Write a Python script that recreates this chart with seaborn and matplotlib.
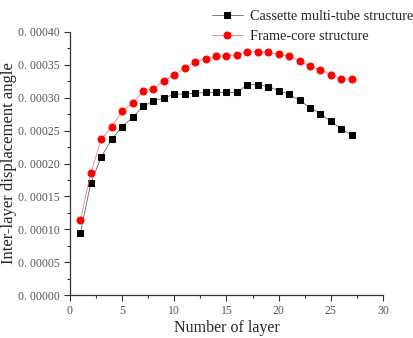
import matplotlib
matplotlib.use("Agg")
import matplotlib.pyplot as plt
import seaborn as sns
import pandas as pd
from matplotlib.ticker import MultipleLocator, FuncFormatter

layers = list(range(1, 28))
cassette = [0.000094, 0.000171, 0.000210, 0.000237, 0.000256, 0.000270, 0.000287,
            0.000295, 0.000300, 0.000305, 0.000306, 0.000307, 0.000308, 0.000308,
            0.000308, 0.000308, 0.000320, 0.000320, 0.000317, 0.000311, 0.000305,
            0.000296, 0.000285, 0.000276, 0.000264, 0.000253, 0.000243]
frame = [0.000114, 0.000186, 0.000237, 0.000256, 0.000280, 0.000292, 0.000310,
         0.000314, 0.000325, 0.000335, 0.000345, 0.000355, 0.000359, 0.000363,
         0.000364, 0.000365, 0.000370, 0.000370, 0.000369, 0.000366, 0.000363,
         0.000356, 0.000348, 0.000342, 0.000335, 0.000329, 0.000328]
series_names = ["Cassette multi-tube structure", "Frame-core structure"]

df_c = pd.DataFrame({"layer": layers, "angle": cassette})
df_f = pd.DataFrame({"layer": layers, "angle": frame})

sns.set_style("ticks")
plt.rcParams["font.family"] = ["Liberation Serif", "DejaVu Serif"]

fig = plt.figure(figsize=(4.14, 3.38), dpi=100)
ax = fig.add_axes([70 / 414, 43 / 338, 313 / 414, 263 / 338])

sns.lineplot(data=df_c, x="layer", y="angle", ax=ax, color="#666666", linewidth=0.6,
             marker="s", markersize=4.5, markerfacecolor="black", markeredgecolor="black",
             label=series_names[0])
sns.lineplot(data=df_f, x="layer", y="angle", ax=ax, color="#f08080", linewidth=0.6,
             marker="o", markersize=5, markerfacecolor="red", markeredgecolor="red",
             label=series_names[1])

ax.set_xlim(0, 30)
ax.set_ylim(0, 0.0004)
ax.xaxis.set_major_locator(MultipleLocator(5))
ax.xaxis.set_minor_locator(MultipleLocator(2.5))
ax.yaxis.set_major_locator(MultipleLocator(0.00005))
ax.yaxis.set_minor_locator(MultipleLocator(0.000025))
ax.yaxis.set_major_formatter(FuncFormatter(lambda v, p: "0. " + f"{v:.5f}"[2:]))

for s in ["top", "right"]:
    ax.spines[s].set_visible(False)
for s in ["left", "bottom"]:
    ax.spines[s].set_color("#333333")
    ax.spines[s].set_linewidth(0.9)

ax.tick_params(axis="both", which="major", length=4, width=0.8, color="#333333",
               labelsize=8.5, labelcolor="#555555", direction="out")
ax.tick_params(axis="both", which="minor", length=2.5, width=0.8, color="#333333",
               direction="out")

ax.set_xlabel("Number of layer", fontsize=11.5, labelpad=2)
ax.set_ylabel("Inter-layer displacement angle", fontsize=12)
ax.yaxis.set_label_coords(-(70 - 17) / 313, 0.5)

ax.legend_.remove()
handles, labels = ax.get_legend_handles_labels()
fig.legend(handles, labels, loc="upper left", bbox_to_anchor=(203 / 414, 0.995),
           frameon=False, fontsize=10.3, handlelength=2.2, handletextpad=0.5,
           labelspacing=0.45, borderaxespad=0.2)

fig.savefig("out.png", dpi=100)
